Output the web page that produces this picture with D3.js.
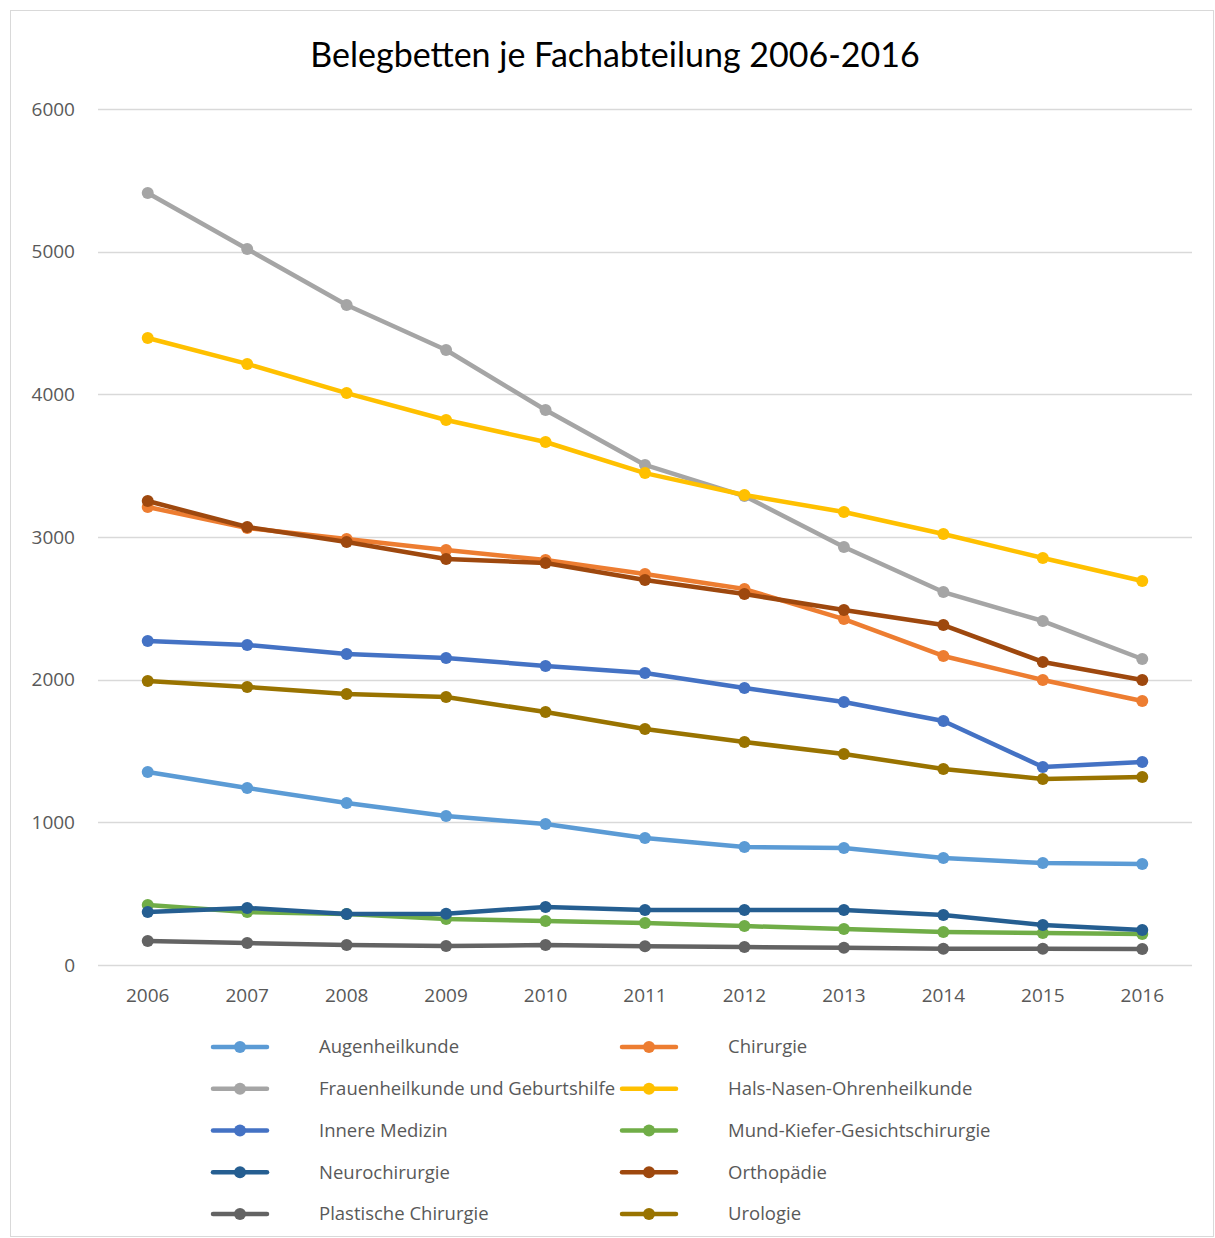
<!DOCTYPE html>
<html>
<head>
<meta charset="utf-8">
<script src="https://cdn.jsdelivr.net/npm/d3@7"></script>
<style>
  body { margin: 0; background: #fff; }
  text { font-family: "Open Sans", sans-serif; }
</style>
</head>
<body>
<svg id="chart"></svg>
<script>
const years = ["2006", "2007", "2008", "2009", "2010", "2011", "2012", "2013", "2014", "2015", "2016"];
const yTicks = [0, 1000, 2000, 3000, 4000, 5000, 6000];

const augenheilkunde = [1353, 1241, 1135, 1044, 988, 890, 827, 820, 750, 715, 708];
const chirurgie = [3210, 3063, 2986, 2909, 2839, 2741, 2635, 2425, 2166, 1998, 1850];
const frauenheilkunde = [5411, 5019, 4626, 4311, 3890, 3505, 3287, 2930, 2614, 2411, 2145];
const hno = [4395, 4213, 4009, 3820, 3666, 3448, 3294, 3175, 3021, 2853, 2692];
const innereMedizin = [2271, 2243, 2180, 2152, 2096, 2047, 1942, 1843, 1710, 1388, 1423];
const mkg = [420, 371, 357, 322, 308, 294, 273, 252, 231, 224, 217];
const neurochirurgie = [371, 400, 357, 360, 407, 385, 385, 385, 350, 280, 245];
const orthopaedie = [3252, 3070, 2965, 2846, 2818, 2699, 2600, 2488, 2383, 2124, 1998];
const plastische = [168, 154, 140, 133, 140, 131, 126, 121, 114, 114, 112];
const urologie = [1991, 1949, 1899, 1878, 1773, 1654, 1563, 1479, 1374, 1304, 1318];

const seriesNames = ["Augenheilkunde", "Chirurgie", "Frauenheilkunde und Geburtshilfe", "Hals-Nasen-Ohrenheilkunde",
  "Innere Medizin", "Mund-Kiefer-Gesichtschirurgie", "Neurochirurgie", "Orthopädie", "Plastische Chirurgie", "Urologie"];
const seriesValues = [augenheilkunde, chirurgie, frauenheilkunde, hno, innereMedizin, mkg, neurochirurgie, orthopaedie, plastische, urologie];
const colors = ["#5B9BD5", "#ED7D31", "#A5A5A5", "#FFC000", "#4472C4", "#70AD47", "#255E91", "#9E480E", "#636363", "#997300"];

const width = 1215, height = 1238;
const margin = { left: 98, right: 23, top: 109, bottom: 273 };

const svg = d3.select("#chart").attr("width", width).attr("height", height);

// chart border
svg.append("rect")
  .attr("x", 10.5).attr("y", 10.5)
  .attr("width", width - 12).attr("height", height - 12)
  .attr("fill", "none").attr("stroke", "#D9D9D9").attr("stroke-width", 1);

svg.append("text")
  .attr("x", 615).attr("y", 67)
  .attr("text-anchor", "middle")
  .style("font-family", "Lato, 'Open Sans', sans-serif")
  .style("font-size", "34px")
  .style("fill", "#000")
  .text("Belegbetten je Fachabteilung 2006-2016");

const x = d3.scaleBand().domain(years).range([margin.left, width - margin.right]);
const y = d3.scaleLinear().domain([0, 6000]).range([height - margin.bottom, margin.top]);

// gridlines
svg.append("g")
  .selectAll("line")
  .data(yTicks)
  .join("line")
  .attr("x1", margin.left).attr("x2", width - margin.right)
  .attr("y1", (d) => Math.round(y(d)) + 0.5).attr("y2", (d) => Math.round(y(d)) + 0.5)
  .attr("stroke", "#D9D9D9").attr("stroke-width", 1.3);

// y axis labels
const yAxis = svg.append("g")
  .attr("transform", `translate(${margin.left - 23},0)`)
  .call(d3.axisLeft(y).tickValues(yTicks).tickFormat(d3.format("d")).tickSize(0).tickPadding(0));
yAxis.select(".domain").remove();
yAxis.selectAll("text")
  .style("font-family", "'Open Sans', sans-serif")
  .style("font-size", "19px")
  .style("fill", "#595959");

// x axis labels
const xAxis = svg.append("g")
  .attr("transform", `translate(0,${height - margin.bottom + 23})`)
  .call(d3.axisBottom(x).tickSize(0).tickPadding(0));
xAxis.select(".domain").remove();
xAxis.selectAll("text")
  .attr("dy", "0.75em")
  .style("font-family", "'Open Sans', sans-serif")
  .style("font-size", "19px")
  .style("fill", "#595959");

const cx = (i) => x(years[i]) + x.bandwidth() / 2;
const line = d3.line().x((d, i) => cx(i)).y((d) => y(d));

seriesValues.forEach((vals, s) => {
  const g = svg.append("g");
  g.append("path")
    .attr("d", line(vals))
    .attr("fill", "none")
    .attr("stroke", colors[s])
    .attr("stroke-width", 4.5)
    .attr("stroke-linejoin", "round")
    .attr("stroke-linecap", "round");
  g.selectAll("circle")
    .data(vals)
    .join("circle")
    .attr("cx", (d, i) => cx(i))
    .attr("cy", (d) => y(d))
    .attr("r", 6)
    .attr("fill", colors[s]);
});

// legend
const legendCols = [213, 622];
const legendRows = d3.range(5).map((r) => 1047 + r * 41.75);
const legend = svg.append("g");
seriesNames.forEach((name, s) => {
  const lx = legendCols[s % 2];
  const ly = legendRows[Math.floor(s / 2)];
  const item = legend.append("g").attr("transform", `translate(${lx},${ly})`);
  item.append("line")
    .attr("x1", 0).attr("x2", 54).attr("y1", 0).attr("y2", 0)
    .attr("stroke", colors[s]).attr("stroke-width", 4.5).attr("stroke-linecap", "round");
  item.append("circle").attr("cx", 27).attr("cy", 0).attr("r", 6).attr("fill", colors[s]);
  item.append("text")
    .attr("x", 106).attr("y", 0).attr("dy", "0.35em")
    .style("font-size", "18.5px")
    .style("fill", "#595959")
    .text(name);
});
</script>
</body>
</html>
